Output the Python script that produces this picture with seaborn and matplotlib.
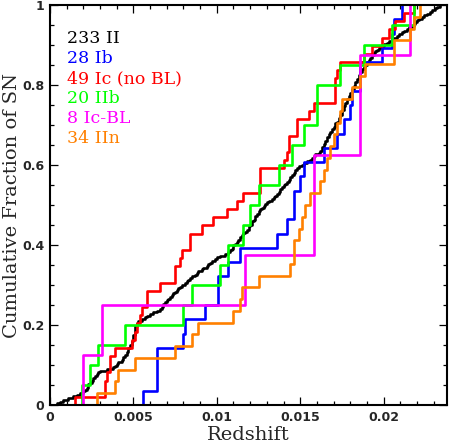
import matplotlib
matplotlib.use("Agg")
import matplotlib.pyplot as plt
import seaborn as sns
from matplotlib.ticker import MultipleLocator, FuncFormatter

# Redshift samples
z_ii = [
    0.0004, 0.0006, 0.0008, 0.0011, 0.0014, 0.0016, 0.0018, 0.0020, 0.0021, 0.0022,
    0.0023, 0.0023, 0.0024, 0.0025, 0.0026, 0.0026, 0.0027, 0.0028, 0.0029, 0.0030,
    0.0034, 0.0038, 0.0039, 0.0040, 0.0041, 0.0043, 0.0044, 0.0044, 0.0045, 0.0046,
    0.0046, 0.0047, 0.0047, 0.0048, 0.0048, 0.0049, 0.0049, 0.0050, 0.0050, 0.0050,
    0.0050, 0.0051, 0.0051, 0.0051, 0.0051, 0.0051, 0.0052, 0.0052, 0.0053, 0.0055,
    0.0057, 0.0058, 0.0060, 0.0062, 0.0064, 0.0066, 0.0067, 0.0068, 0.0068, 0.0069,
    0.0070, 0.0071, 0.0072, 0.0073, 0.0074, 0.0075, 0.0076, 0.0077, 0.0078, 0.0079,
    0.0081, 0.0082, 0.0083, 0.0084, 0.0085, 0.0087, 0.0088, 0.0089, 0.0091, 0.0092,
    0.0094, 0.0095, 0.0096, 0.0097, 0.0099, 0.0100, 0.0102, 0.0105, 0.0107, 0.0108,
    0.0109, 0.0110, 0.0110, 0.0111, 0.0112, 0.0113, 0.0114, 0.0114, 0.0115, 0.0116,
    0.0117, 0.0118, 0.0119, 0.0119, 0.0120, 0.0121, 0.0121, 0.0122, 0.0123, 0.0123,
    0.0124, 0.0125, 0.0125, 0.0126, 0.0127, 0.0128, 0.0129, 0.0130, 0.0131, 0.0133,
    0.0134, 0.0135, 0.0136, 0.0137, 0.0138, 0.0138, 0.0139, 0.0140, 0.0141, 0.0142,
    0.0143, 0.0144, 0.0144, 0.0145, 0.0146, 0.0147, 0.0147, 0.0148, 0.0149, 0.0151,
    0.0152, 0.0154, 0.0156, 0.0157, 0.0158, 0.0159, 0.0161, 0.0162, 0.0163, 0.0163,
    0.0164, 0.0164, 0.0165, 0.0165, 0.0166, 0.0166, 0.0167, 0.0167, 0.0168, 0.0169,
    0.0169, 0.0170, 0.0171, 0.0171, 0.0172, 0.0173, 0.0173, 0.0174, 0.0174, 0.0175,
    0.0175, 0.0175, 0.0176, 0.0176, 0.0177, 0.0177, 0.0178, 0.0178, 0.0179, 0.0179,
    0.0180, 0.0180, 0.0181, 0.0181, 0.0182, 0.0182, 0.0183, 0.0183, 0.0184, 0.0184,
    0.0185, 0.0185, 0.0186, 0.0186, 0.0187, 0.0187, 0.0188, 0.0189, 0.0190, 0.0190,
    0.0191, 0.0192, 0.0193, 0.0193, 0.0194, 0.0195, 0.0196, 0.0197, 0.0199, 0.0200,
    0.0202, 0.0203, 0.0205, 0.0206, 0.0208, 0.0209, 0.0211, 0.0212, 0.0214, 0.0215,
    0.0217, 0.0218, 0.0219, 0.0220, 0.0221, 0.0223, 0.0224, 0.0226, 0.0228, 0.0229,
    0.0231, 0.0232, 0.0234,
]

z_ib = [
    0.0056, 0.0064, 0.0064, 0.0064, 0.0080, 0.0081, 0.0093, 0.0101, 0.0101, 0.0107,
    0.0114, 0.0136, 0.0142, 0.0146, 0.0146, 0.0150, 0.0152, 0.0164, 0.0172, 0.0176,
    0.0180, 0.0181, 0.0186, 0.0186, 0.0199, 0.0205, 0.0206, 0.0211,
]

z_ic = [
    0.0015, 0.0033, 0.0033, 0.0034, 0.0036, 0.0036, 0.0039, 0.0049, 0.0051, 0.0052,
    0.0054, 0.0055, 0.0058, 0.0058, 0.0066, 0.0075, 0.0075, 0.0078, 0.0079, 0.0084,
    0.0084, 0.0091, 0.0098, 0.0106, 0.0112, 0.0116, 0.0126, 0.0126, 0.0126, 0.0140,
    0.0142, 0.0143, 0.0143, 0.0148, 0.0148, 0.0155, 0.0158, 0.0171, 0.0171, 0.0171,
    0.0172, 0.0174, 0.0188, 0.0193, 0.0199, 0.0203, 0.0207, 0.0212, 0.0218,
]

z_iib = [
    0.0019, 0.0024, 0.0029, 0.0045, 0.0080, 0.0085, 0.0102, 0.0107, 0.0116, 0.0120,
    0.0125, 0.0137, 0.0145, 0.0152, 0.0160, 0.0160, 0.0174, 0.0188, 0.0205, 0.0218,
]

z_icbl = [0.0020, 0.0031, 0.0117, 0.0158, 0.0158, 0.0186, 0.0186, 0.0216]

z_iin = [
    0.0028, 0.0039, 0.0041, 0.0051, 0.0075, 0.0085, 0.0089, 0.0110, 0.0114, 0.0115,
    0.0125, 0.0144, 0.0146, 0.0146, 0.0149, 0.0151, 0.0153, 0.0156, 0.0162, 0.0164,
    0.0166, 0.0168, 0.0170, 0.0172, 0.0174, 0.0175, 0.0181, 0.0186, 0.0189, 0.0206,
    0.0206, 0.0216, 0.0218, 0.0222,
]

type_names = ["II", "Ib", "Ic (no BL)", "IIb", "Ic-BL", "IIn"]
samples = [z_ii, z_ib, z_ic, z_iib, z_icbl, z_iin]
colors = ["#000000", "#0000ff", "#ff0000", "#00ff00", "#ff00ff", "#ff8000"]

sns.set_theme(style="ticks")
plt.rcParams["font.family"] = ["DejaVu Sans"]

fig = plt.figure(figsize=(4.5, 4.45), dpi=100)
ax = fig.add_axes([50 / 450, 40 / 445, 397 / 450, 400 / 445])

# One cumulative step curve per SN type, drawn in legend order
for z, col in zip(samples, colors):
    sns.ecdfplot(x=z, ax=ax, color=col, linewidth=1.9)

ax.set_xlim(0, 0.0238)
ax.set_ylim(0, 1)

ax.xaxis.set_major_locator(MultipleLocator(0.005))
ax.xaxis.set_minor_locator(MultipleLocator(0.001))
ax.yaxis.set_major_locator(MultipleLocator(0.2))
ax.yaxis.set_minor_locator(MultipleLocator(0.05))
fmt = FuncFormatter(lambda v, p: "%g" % round(v, 4))
ax.xaxis.set_major_formatter(fmt)
ax.yaxis.set_major_formatter(fmt)

ax.tick_params(which="both", direction="in", top=True, right=True,
               color="black", width=0.9)
ax.tick_params(which="major", length=5.5, labelsize=9, pad=4)
ax.tick_params(which="minor", length=3)
for lab in ax.get_xticklabels() + ax.get_yticklabels():
    lab.set_fontweight("bold")

for sp in ax.spines.values():
    sp.set_linewidth(1.5)
    sp.set_color("black")

ax.set_xlabel("Redshift", family="DejaVu Serif", fontsize=14, labelpad=2)
ax.set_ylabel("Cumulative Fraction of SN", family="DejaVu Serif",
              fontsize=14, labelpad=1)

# Legend as coloured text lines
for i, (z, name, col) in enumerate(zip(samples, type_names, colors)):
    ax.text(0.043, 0.904 - 0.05 * i, f"{len(z)} {name}", color=col,
            transform=ax.transAxes, family="DejaVu Serif", fontsize=12.5,
            va="baseline", ha="left")

fig.savefig("out.png", dpi=100)
